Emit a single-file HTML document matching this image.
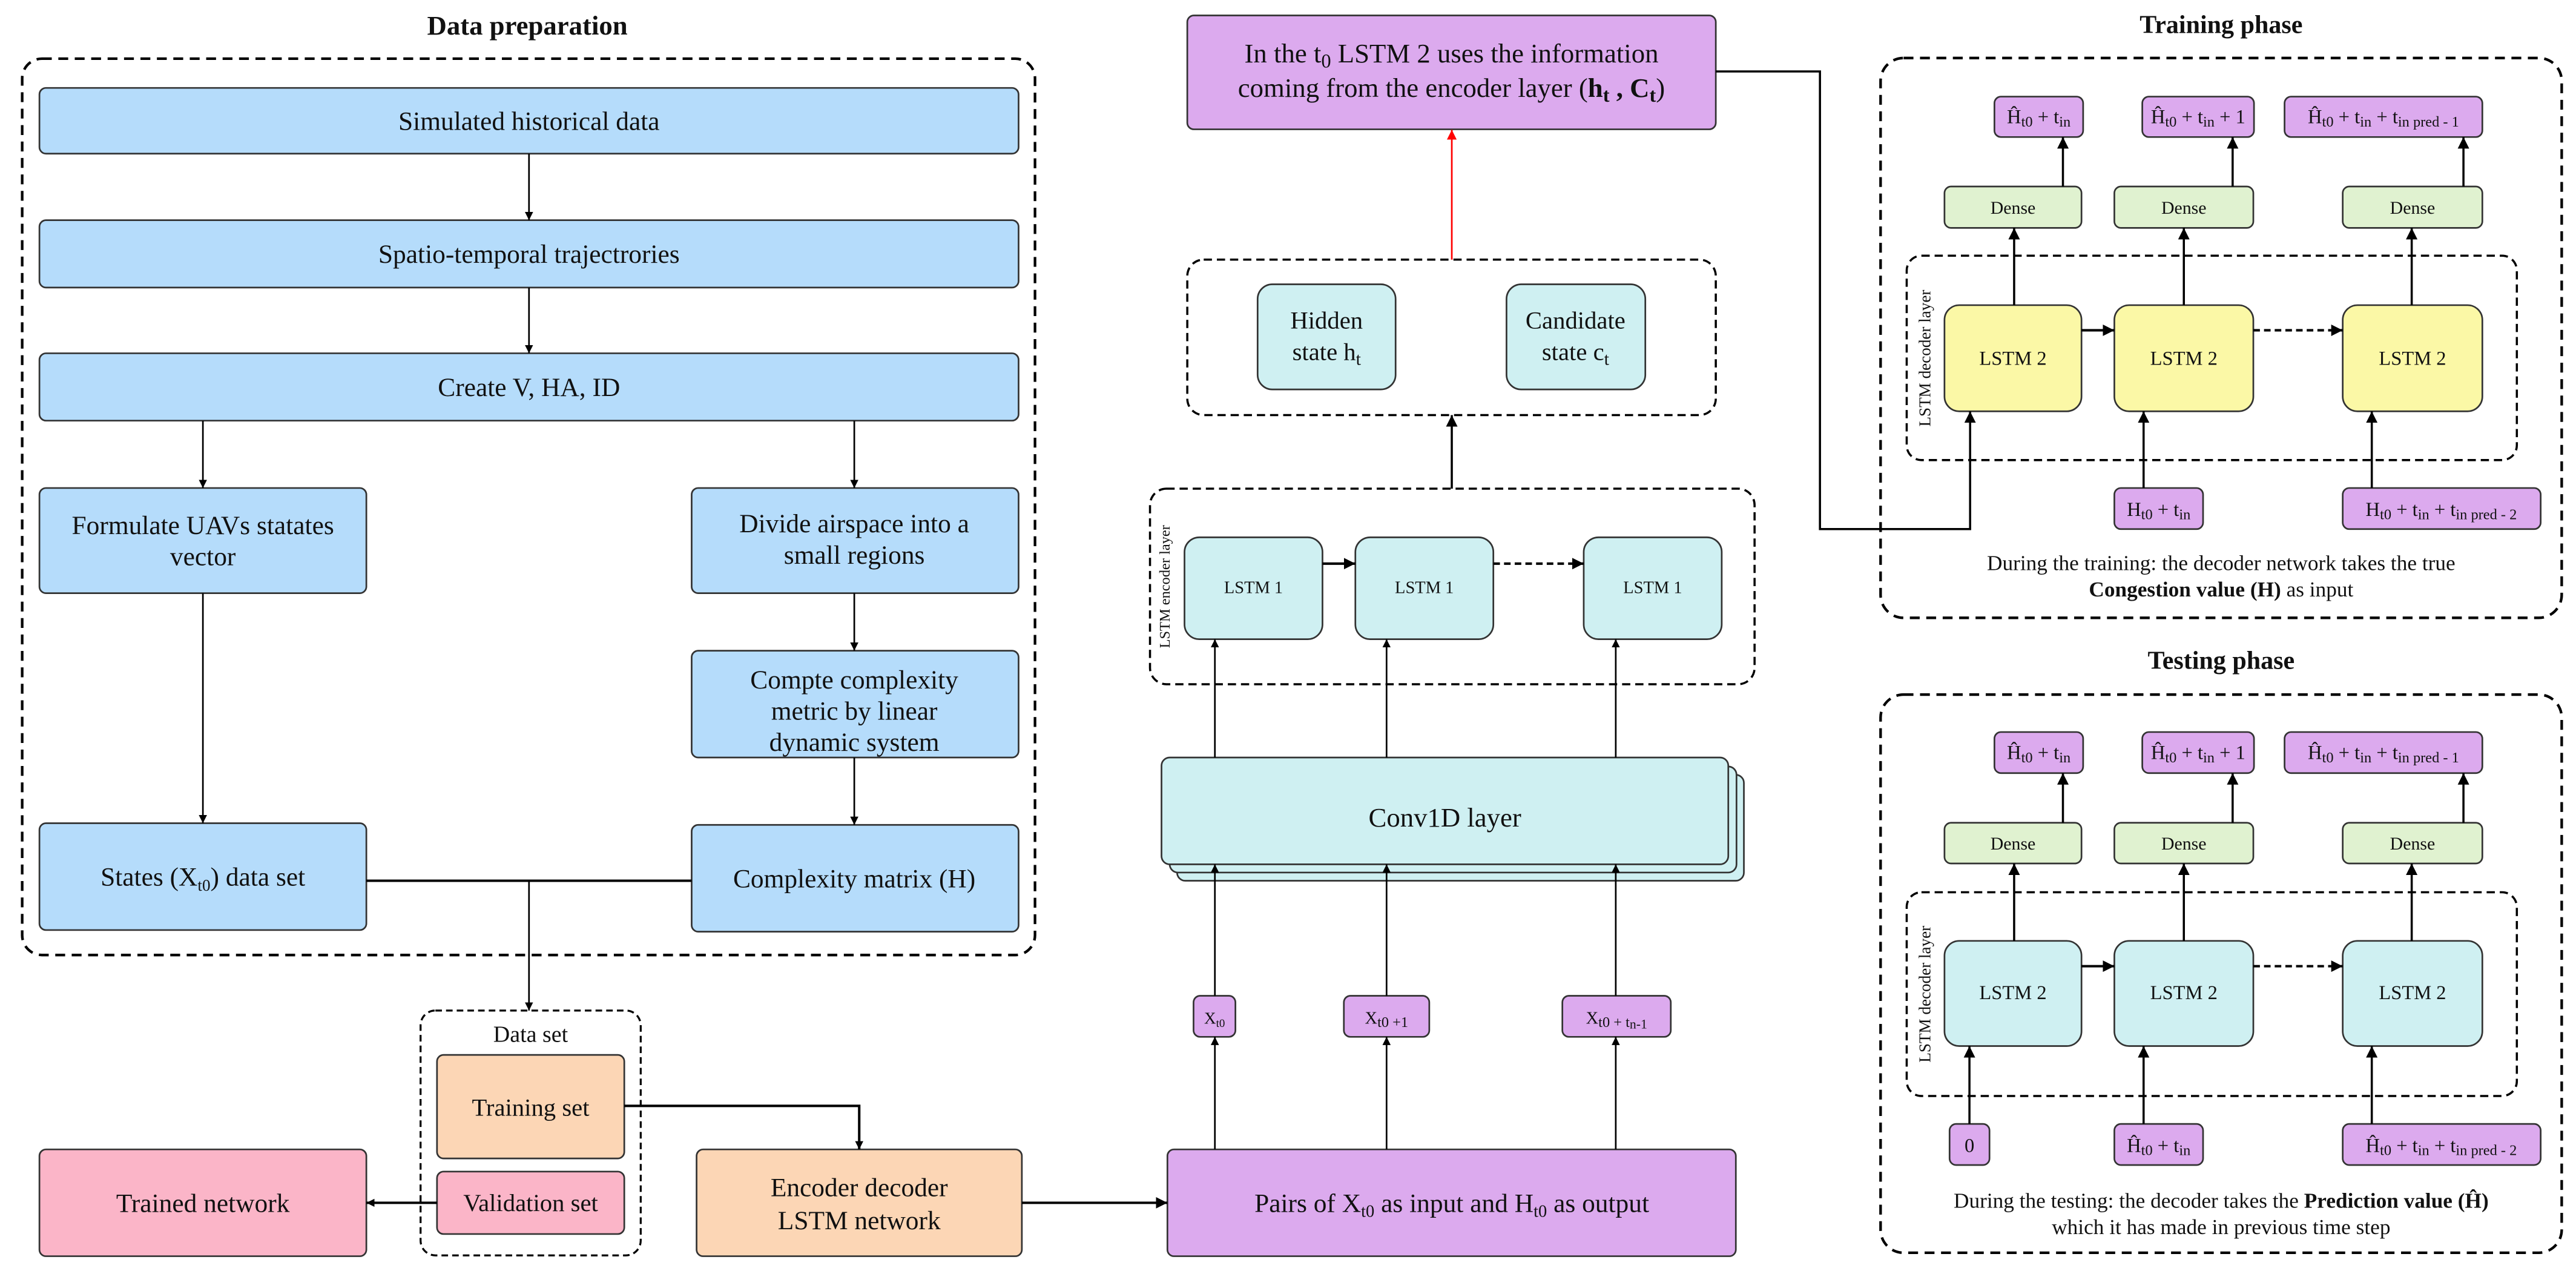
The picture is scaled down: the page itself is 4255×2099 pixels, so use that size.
<!DOCTYPE html>
<html><head><meta charset="utf-8"><style>
html,body{margin:0;padding:0;background:#fff;}
svg{display:block;font-family:"Liberation Serif","DejaVu Serif",serif;}
svg text, svg tspan{font-family:"Liberation Serif","DejaVu Serif",serif !important;fill:#111;}
</style></head><body>
<svg width="4255" height="2099" viewBox="0 0 1568 773.5" xmlns="http://www.w3.org/2000/svg" font-family="Liberation Serif, DejaVu Serif, serif">
<defs>
<marker id="a" viewBox="0 0 10 10" refX="10" refY="5" markerWidth="5" markerHeight="5" orient="auto" markerUnits="userSpaceOnUse"><path d="M0,0 L10,5 L0,10 z" fill="#000"/></marker>
<marker id="ab" viewBox="0 0 10 10" refX="10" refY="5" markerWidth="7" markerHeight="7" orient="auto" markerUnits="userSpaceOnUse"><path d="M0,0 L10,5 L0,10 z" fill="#000"/></marker>
<marker id="ar" viewBox="0 0 10 10" refX="10" refY="5" markerWidth="6" markerHeight="6" orient="auto" markerUnits="userSpaceOnUse"><path d="M0,0 L10,5 L0,10 z" fill="#f00"/></marker>
</defs>
<g stroke="#333" stroke-width="1">
<rect x="24" y="53.5" width="596" height="40" rx="4" fill="#b5dcfb"/>
<rect x="24" y="134" width="596" height="41" rx="4" fill="#b5dcfb"/>
<rect x="24" y="215" width="596" height="41" rx="4" fill="#b5dcfb"/>
<rect x="24" y="297" width="199" height="64" rx="4" fill="#b5dcfb"/>
<rect x="421" y="297" width="199" height="64" rx="4" fill="#b5dcfb"/>
<rect x="421" y="396" width="199" height="65" rx="4" fill="#b5dcfb"/>
<rect x="24" y="501" width="199" height="65" rx="4" fill="#b5dcfb"/>
<rect x="421" y="502" width="199" height="65" rx="4" fill="#b5dcfb"/>
<rect x="266" y="642" width="114" height="63" rx="4" fill="#fcd6b5"/>
<rect x="266" y="713" width="114" height="38" rx="4" fill="#fbb5c8"/>
<rect x="24" y="699.5" width="199" height="65" rx="4" fill="#fbb5c8"/>
<rect x="424" y="699.5" width="198" height="65" rx="4" fill="#fcd6b5"/>
<rect x="710.6" y="699.5" width="346" height="65" rx="4" fill="#dcaaee"/>
<rect x="726.5" y="606" width="25.5" height="25" rx="4" fill="#dcaaee"/>
<rect x="818" y="606" width="52" height="25" rx="4" fill="#dcaaee"/>
<rect x="951" y="606" width="66" height="25" rx="4" fill="#dcaaee"/>
<rect x="716.5" y="471.5" width="345" height="64.5" rx="5" fill="#cff0f2"/>
<rect x="712" y="466.5" width="345" height="64.5" rx="5" fill="#cff0f2"/>
<rect x="707" y="461" width="345" height="65" rx="5" fill="#cff0f2"/>
<rect x="721" y="327" width="84" height="62" rx="9" fill="#cff0f2"/>
<rect x="825" y="327" width="84" height="62" rx="9" fill="#cff0f2"/>
<rect x="964" y="327" width="84" height="62" rx="9" fill="#cff0f2"/>
<rect x="765.5" y="173" width="84" height="64" rx="9" fill="#cff0f2"/>
<rect x="917" y="173" width="84.5" height="64" rx="9" fill="#cff0f2"/>
<rect x="722.7" y="9.4" width="321.7" height="69.3" rx="4" fill="#dcaaee"/>
<rect x="1214" y="58.8" width="54" height="24.6" rx="4" fill="#dcaaee"/>
<rect x="1304" y="58.8" width="68" height="24.6" rx="4" fill="#dcaaee"/>
<rect x="1390.6" y="58.8" width="120.4" height="24.6" rx="4" fill="#dcaaee"/>
<rect x="1183.6" y="113.5" width="83.4" height="25.2" rx="4" fill="#e0f2d0"/>
<rect x="1287" y="113.5" width="84.6" height="25.2" rx="4" fill="#e0f2d0"/>
<rect x="1426" y="113.5" width="85" height="25.2" rx="4" fill="#e0f2d0"/>
<rect x="1183.6" y="185.7" width="83.4" height="64.6" rx="9" fill="#fbf8a6"/>
<rect x="1287" y="185.7" width="84.6" height="64.6" rx="9" fill="#fbf8a6"/>
<rect x="1426" y="185.7" width="85" height="64.6" rx="9" fill="#fbf8a6"/>
<rect x="1287" y="297" width="54" height="25" rx="4" fill="#dcaaee"/>
<rect x="1426" y="297" width="120.5" height="25" rx="4" fill="#dcaaee"/>
<rect x="1214" y="445.5" width="54" height="25" rx="4" fill="#dcaaee"/>
<rect x="1304" y="445.5" width="68" height="25" rx="4" fill="#dcaaee"/>
<rect x="1390.6" y="445.5" width="120.4" height="25" rx="4" fill="#dcaaee"/>
<rect x="1183.6" y="500.7" width="83.4" height="24.8" rx="4" fill="#e0f2d0"/>
<rect x="1287" y="500.7" width="84.6" height="24.8" rx="4" fill="#e0f2d0"/>
<rect x="1426" y="500.7" width="85" height="24.8" rx="4" fill="#e0f2d0"/>
<rect x="1183.6" y="572.6" width="83.4" height="64" rx="9" fill="#cff0f2"/>
<rect x="1287" y="572.6" width="84.6" height="64" rx="9" fill="#cff0f2"/>
<rect x="1426" y="572.6" width="85" height="64" rx="9" fill="#cff0f2"/>
<rect x="1186.7" y="684" width="24.3" height="25" rx="4" fill="#dcaaee"/>
<rect x="1287" y="684" width="54" height="25" rx="4" fill="#dcaaee"/>
<rect x="1426" y="684" width="120.5" height="25" rx="4" fill="#dcaaee"/>
</g>

<g fill="none" stroke="#000" stroke-width="1.6" stroke-dasharray="6,4">
<rect x="13.5" y="35.7" width="616.5" height="545.5" rx="12"/>
<rect x="256" y="615" width="134" height="149" rx="9" stroke-width="1.2" stroke-dasharray="4,2.5"/>
<rect x="722.7" y="158" width="321.7" height="94.6" rx="10" stroke-width="1.3" stroke-dasharray="5,3"/>
<rect x="700" y="297.4" width="368" height="119" rx="10" stroke-width="1.3" stroke-dasharray="5,3"/>
<rect x="1144.7" y="35.3" width="414.6" height="340.7" rx="14"/>
<rect x="1160.6" y="155.6" width="371.4" height="124.4" rx="9" stroke-width="1.3" stroke-dasharray="5,3"/>
<rect x="1144.7" y="422.7" width="414.6" height="339.7" rx="14"/>
<rect x="1160.6" y="543" width="371.4" height="124" rx="9" stroke-width="1.3" stroke-dasharray="5,3"/>
</g>

<g fill="none" stroke="#000" stroke-width="1">
<line x1="322" y1="93.5" x2="322" y2="134" marker-end="url(#a)"/>
<line x1="322" y1="175" x2="322" y2="215" marker-end="url(#a)"/>
<line x1="123.5" y1="256" x2="123.5" y2="297" marker-end="url(#a)"/>
<line x1="520" y1="256" x2="520" y2="297" marker-end="url(#a)"/>
<line x1="520" y1="361" x2="520" y2="396" marker-end="url(#a)"/>
<line x1="123.5" y1="361" x2="123.5" y2="501" marker-end="url(#a)"/>
<line x1="520" y1="461" x2="520" y2="502" marker-end="url(#a)"/>
<line x1="223" y1="536" x2="421" y2="536" stroke-width="1.5"/>
<line x1="322" y1="536" x2="322" y2="615" marker-end="url(#a)"/>
<polyline points="380,673 523,673 523,699.5" stroke-width="1.5" marker-end="url(#a)"/>
<line x1="266" y1="732" x2="223" y2="732" stroke-width="1.5" marker-end="url(#a)"/>
<line x1="622" y1="732" x2="710.6" y2="732" stroke-width="1.5" marker-end="url(#ab)"/>
<line x1="739.5" y1="699.5" x2="739.5" y2="631" marker-end="url(#a)"/>
<line x1="844" y1="699.5" x2="844" y2="631" marker-end="url(#a)"/>
<line x1="983.5" y1="699.5" x2="983.5" y2="631" marker-end="url(#a)"/>
<line x1="739.5" y1="606" x2="739.5" y2="526" marker-end="url(#a)"/>
<line x1="844" y1="606" x2="844" y2="526" marker-end="url(#a)"/>
<line x1="983.5" y1="606" x2="983.5" y2="526" marker-end="url(#a)"/>
<line x1="739.5" y1="461" x2="739.5" y2="389" marker-end="url(#a)"/>
<line x1="844" y1="461" x2="844" y2="389" marker-end="url(#a)"/>
<line x1="983.5" y1="461" x2="983.5" y2="389" marker-end="url(#a)"/>
<line x1="805" y1="343" x2="825" y2="343" stroke-width="1.5" marker-end="url(#ab)"/>
<line x1="909" y1="343" x2="964" y2="343" stroke-width="1.5" stroke-dasharray="4,2.5" marker-end="url(#ab)"/>
<line x1="883.7" y1="297.4" x2="883.7" y2="252.6" stroke-width="1.3" marker-end="url(#ab)"/>
<line x1="883.7" y1="158" x2="883.7" y2="79" stroke="#f00" stroke-width="1" marker-end="url(#ar)"/>
<polyline points="1044.4,43.5 1107.8,43.5 1107.8,322 1199.2,322 1199.2,250.3" stroke-width="1.3" marker-end="url(#ab)"/>
<line x1="1226" y1="185.7" x2="1226" y2="138.7" stroke-width="1.3" marker-end="url(#ab)"/>
<line x1="1329.3" y1="185.7" x2="1329.3" y2="138.7" stroke-width="1.3" marker-end="url(#ab)"/>
<line x1="1468" y1="185.7" x2="1468" y2="138.7" stroke-width="1.3" marker-end="url(#ab)"/>
<line x1="1255.7" y1="113.5" x2="1255.7" y2="83.4" stroke-width="1.3" marker-end="url(#ab)"/>
<line x1="1359" y1="113.5" x2="1359" y2="83.4" stroke-width="1.3" marker-end="url(#ab)"/>
<line x1="1499.5" y1="113.5" x2="1499.5" y2="83.4" stroke-width="1.3" marker-end="url(#ab)"/>
<line x1="1267" y1="201" x2="1287" y2="201" stroke-width="1.5" marker-end="url(#ab)"/>
<line x1="1371.6" y1="201" x2="1426" y2="201" stroke-width="1.5" stroke-dasharray="4,2.5" marker-end="url(#ab)"/>
<line x1="1304.8" y1="297" x2="1304.8" y2="250.3" stroke-width="1.3" marker-end="url(#ab)"/>
<line x1="1443.7" y1="297" x2="1443.7" y2="250.3" stroke-width="1.3" marker-end="url(#ab)"/>
<line x1="1226" y1="572.6" x2="1226" y2="525.5" stroke-width="1.3" marker-end="url(#ab)"/>
<line x1="1329.3" y1="572.6" x2="1329.3" y2="525.5" stroke-width="1.3" marker-end="url(#ab)"/>
<line x1="1468" y1="572.6" x2="1468" y2="525.5" stroke-width="1.3" marker-end="url(#ab)"/>
<line x1="1255.7" y1="500.7" x2="1255.7" y2="470.5" stroke-width="1.3" marker-end="url(#ab)"/>
<line x1="1359" y1="500.7" x2="1359" y2="470.5" stroke-width="1.3" marker-end="url(#ab)"/>
<line x1="1499.5" y1="500.7" x2="1499.5" y2="470.5" stroke-width="1.3" marker-end="url(#ab)"/>
<line x1="1267" y1="588" x2="1287" y2="588" stroke-width="1.5" marker-end="url(#ab)"/>
<line x1="1371.6" y1="588" x2="1426" y2="588" stroke-width="1.5" stroke-dasharray="4,2.5" marker-end="url(#ab)"/>
<line x1="1198.8" y1="684" x2="1198.8" y2="636.6" stroke-width="1.3" marker-end="url(#ab)"/>
<line x1="1304.8" y1="684" x2="1304.8" y2="636.6" stroke-width="1.3" marker-end="url(#ab)"/>
<line x1="1443.7" y1="684" x2="1443.7" y2="636.6" stroke-width="1.3" marker-end="url(#ab)"/>
</g>

<g text-anchor="middle" font-size="16" font-family="Liberation Serif, DejaVu Serif, serif">
<text x="321" y="21" font-weight="bold" font-size="16.5">Data preparation</text>
<text x="322" y="79">Simulated historical data</text>
<text x="322" y="160">Spatio-temporal trajectrories</text>
<text x="322" y="241">Create V, HA, ID</text>
<text x="123.5" y="325">Formulate UAVs statates</text>
<text x="123.5" y="344">vector</text>
<text x="520" y="324">Divide airspace into a</text>
<text x="520" y="343">small regions</text>
<text x="520" y="419">Compte complexity</text>
<text x="520" y="438">metric by linear</text>
<text x="520" y="457">dynamic system</text>
<text x="123.5" y="539">States (X<tspan font-size="10" dy="3">t0</tspan><tspan dy="-3">) data set</tspan></text>
<text x="520" y="540">Complexity matrix (H)</text>
<text x="323" y="634" font-size="14">Data set</text>
<text x="323" y="679" font-size="15">Training set</text>
<text x="323" y="737" font-size="15">Validation set</text>
<text x="123.5" y="737.5">Trained network</text>
<text x="523" y="728">Encoder decoder</text>
<text x="523" y="748">LSTM network</text>
<text x="883.7" y="737.5">Pairs of X<tspan font-size="10.5" dy="3">t0</tspan><tspan dy="-3"> as input and H</tspan><tspan font-size="10.5" dy="3">t0</tspan><tspan dy="-3"> as output</tspan></text>
<text x="739.3" y="623" font-size="10">X<tspan font-size="7" dy="2">t0</tspan></text>
<text x="844" y="623" font-size="10.5">X<tspan font-size="9" dy="2">t0 +1</tspan></text>
<text x="984" y="623" font-size="10.5">X<tspan font-size="9" dy="2">t0 + t</tspan><tspan font-size="8" dy="1">n-1</tspan></text>
<text x="879.5" y="503" font-size="16.5">Conv1D layer</text>
<text x="763" y="361" font-size="10.5">LSTM 1</text>
<text x="867" y="361" font-size="10.5">LSTM 1</text>
<text x="1006" y="361" font-size="10.5">LSTM 1</text>
<text transform="translate(712,357) rotate(-90)" font-size="9" fill="#333">LSTM encoder layer</text>
<text x="807.5" y="200" font-size="15">Hidden</text>
<text x="807.5" y="219" font-size="15">state h<tspan font-size="11" dy="3">t</tspan></text>
<text x="959" y="200" font-size="15">Candidate</text>
<text x="959" y="219" font-size="15">state c<tspan font-size="11" dy="3">t</tspan></text>
<text x="883.5" y="38" font-size="16.5">In the t<tspan font-size="12" dy="3">0</tspan><tspan dy="-3"> LSTM 2 uses the information</tspan></text>
<text x="883.5" y="59" font-size="16.5">coming from the encoder layer (<tspan font-weight="bold">h<tspan font-size="12" dy="3">t</tspan><tspan dy="-3"> , C</tspan><tspan font-size="12" dy="3">t</tspan></tspan><tspan dy="-3">)</tspan></text>

<text x="1352" y="20" font-weight="bold" font-size="15.5">Training phase</text>
<text x="1241" y="75" font-size="12">Ĥ<tspan font-size="9" dy="2">t0</tspan><tspan dy="-2"> + t</tspan><tspan font-size="9" dy="2">in</tspan></text>
<text x="1338" y="75" font-size="12">Ĥ<tspan font-size="9" dy="2">t0</tspan><tspan dy="-2"> + t</tspan><tspan font-size="9" dy="2">in</tspan><tspan dy="-2"> + 1</tspan></text>
<text x="1450.8" y="75" font-size="12">Ĥ<tspan font-size="9" dy="2">t0</tspan><tspan dy="-2"> + t</tspan><tspan font-size="9" dy="2">in</tspan><tspan dy="-2"> + t</tspan><tspan font-size="9" dy="2">in pred - 1</tspan></text>
<text x="1225.3" y="130" font-size="11">Dense</text>
<text x="1329.3" y="130" font-size="11">Dense</text>
<text x="1468.5" y="130" font-size="11">Dense</text>
<text x="1225.3" y="222" font-size="12">LSTM 2</text>
<text x="1329.3" y="222" font-size="12">LSTM 2</text>
<text x="1468.5" y="222" font-size="12">LSTM 2</text>
<text transform="translate(1175,218) rotate(-90)" font-size="10" fill="#333">LSTM decoder layer</text>
<text x="1314" y="314" font-size="12">H<tspan font-size="9" dy="2">t0</tspan><tspan dy="-2"> + t</tspan><tspan font-size="9" dy="2">in</tspan></text>
<text x="1486" y="314" font-size="12">H<tspan font-size="9" dy="2">t0</tspan><tspan dy="-2"> + t</tspan><tspan font-size="9" dy="2">in</tspan><tspan dy="-2"> + t</tspan><tspan font-size="9" dy="2">in pred - 2</tspan></text>
<text x="1352" y="347" font-size="13">During the training: the decoder network takes the true</text>
<text x="1352" y="363" font-size="13"><tspan font-weight="bold">Congestion value (H)</tspan> as input</text>

<text x="1352" y="407" font-weight="bold" font-size="15.5">Testing phase</text>
<text x="1241" y="462" font-size="12">Ĥ<tspan font-size="9" dy="2">t0</tspan><tspan dy="-2"> + t</tspan><tspan font-size="9" dy="2">in</tspan></text>
<text x="1338" y="462" font-size="12">Ĥ<tspan font-size="9" dy="2">t0</tspan><tspan dy="-2"> + t</tspan><tspan font-size="9" dy="2">in</tspan><tspan dy="-2"> + 1</tspan></text>
<text x="1450.8" y="462" font-size="12">Ĥ<tspan font-size="9" dy="2">t0</tspan><tspan dy="-2"> + t</tspan><tspan font-size="9" dy="2">in</tspan><tspan dy="-2"> + t</tspan><tspan font-size="9" dy="2">in pred - 1</tspan></text>
<text x="1225.3" y="517" font-size="11">Dense</text>
<text x="1329.3" y="517" font-size="11">Dense</text>
<text x="1468.5" y="517" font-size="11">Dense</text>
<text x="1225.3" y="608" font-size="12">LSTM 2</text>
<text x="1329.3" y="608" font-size="12">LSTM 2</text>
<text x="1468.5" y="608" font-size="12">LSTM 2</text>
<text transform="translate(1175,605) rotate(-90)" font-size="10" fill="#333">LSTM decoder layer</text>
<text x="1198.8" y="701" font-size="12">0</text>
<text x="1314" y="701" font-size="12">Ĥ<tspan font-size="9" dy="2">t0</tspan><tspan dy="-2"> + t</tspan><tspan font-size="9" dy="2">in</tspan></text>
<text x="1486" y="701" font-size="12">Ĥ<tspan font-size="9" dy="2">t0</tspan><tspan dy="-2"> + t</tspan><tspan font-size="9" dy="2">in</tspan><tspan dy="-2"> + t</tspan><tspan font-size="9" dy="2">in pred - 2</tspan></text>
<text x="1352" y="735" font-size="13">During the testing: the decoder takes the <tspan font-weight="bold">Prediction value (Ĥ)</tspan></text>
<text x="1352" y="751" font-size="13">which it has made in previous time step</text>
</g>
</svg>
</body></html>
